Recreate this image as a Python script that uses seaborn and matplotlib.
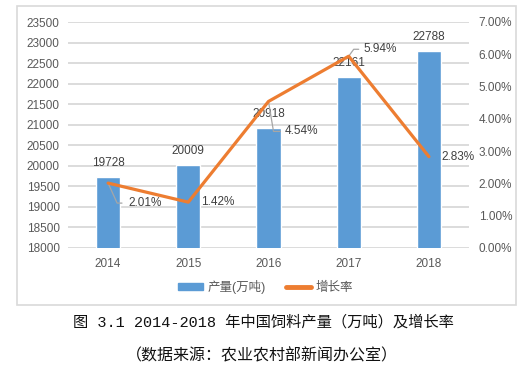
import matplotlib
matplotlib.use("Agg")
import numpy as np
import pandas as pd
import seaborn as sns
import matplotlib.pyplot as plt
import matplotlib.transforms as mtrans
from matplotlib.patches import Rectangle
from matplotlib.lines import Line2D

sns.set_theme(style='white')
plt.rcParams['font.family'] = ['Liberation Sans', 'Noto Sans CJK SC', 'DejaVu Sans']

years = ['2014', '2015', '2016', '2017', '2018']
output = [19728, 20009, 20918, 22161, 22788]
growth = [2.01, 1.42, 4.54, 5.94, 2.83]
left_ticks = [18000, 18500, 19000, 19500, 20000, 20500, 21000, 21500, 22000, 22500, 23000, 23500]
right_ticks = [0, 1, 2, 3, 4, 5, 6, 7]

BAR = '#5B9BD5'
LINE = '#ED7D31'
GRID = '#D9D9D9'
TXT = '#595959'

df = pd.DataFrame({'year': years, 'output': output, 'growth': growth, 'pos': np.arange(len(years))})

fig = plt.figure(figsize=(5.31, 3.67), dpi=100)
fig.patches.append(Rectangle((17 / 531, 1 - 305 / 367), 499 / 531, 299 / 367,
                             transform=fig.transFigure, fill=False, edgecolor=GRID, lw=1.2))
ax = fig.add_axes([68 / 531, 1 - 248 / 367, 401 / 531, 226 / 367])

sns.barplot(data=df, x='year', y='output', color=BAR, width=0.3, saturation=1, ax=ax, zorder=2)
ax.set_ylim(18000, 23500)
ax.set_yticks(left_ticks)
ax.set_xlim(-0.5, 4.5)
ax.grid(axis='y', color=GRID, lw=1.3, zorder=0)
ax.set_axisbelow(True)
for s in ax.spines.values():
    s.set_visible(False)
ax.tick_params(axis='both', length=0, labelsize=8.5, colors=TXT)
ax.tick_params(axis='y', pad=6)
ax.tick_params(axis='x', pad=7)
ax.set_xlabel('')
ax.set_ylabel('')
for i, v in enumerate(output):
    ax.annotate(str(v), xy=(i, v), xytext=(0, 6), textcoords='offset points',
                ha='center', va='bottom', fontsize=8.5, color='#404040')

ax2 = ax.twinx()
sns.lineplot(data=df, x='pos', y='growth', color=LINE, lw=2.3, ax=ax2, zorder=3)
ax2.set_ylim(0, 7)
ax2.set_yticks(right_ticks)
ax2.set_yticklabels(['%.2f%%' % t for t in right_ticks])
ax2.set_xlim(-0.5, 4.5)
for s in ax2.spines.values():
    s.set_visible(False)
ax2.tick_params(axis='y', length=0, labelsize=8.5, colors=TXT, pad=7)
ax2.set_xlabel('')
ax2.set_ylabel('')

# percent labels (offsets in points from the point), leader lines where Excel drew them
text_off = [(14.4, -14.4), (9, 0), (11.5, -21.6), (10.8, 5), (9, 0)]
leaders = [[(0, 0), (6.5, -14.4), (10, -14.4)],
           None,
           [(0, 0), (3.6, -21.6), (8.6, -21.6)],
           [(0, 0), (3.6, 5), (7.2, 5)],
           None]
for i, (g, off, lead) in enumerate(zip(growth, text_off, leaders)):
    ax2.annotate('%.2f%%' % g, xy=(i, g), xytext=off, textcoords='offset points',
                 ha='left', va='center', fontsize=8.5, color='#404040', zorder=4)
    if lead:
        tr = mtrans.Affine2D().scale(fig.dpi / 72) + mtrans.ScaledTranslation(i, g, ax2.transData)
        xs, ys = zip(*lead)
        ax2.add_line(Line2D(xs, ys, transform=tr, color='#A6A6A6', lw=0.9, zorder=2.5))

handles = [Rectangle((0, 0), 1, 1, color=BAR), Line2D([0], [0], color=LINE, lw=3.5)]
fig.legend(handles, ['产量(万吨)', '增长率'], loc='center', bbox_to_anchor=(0.5, 1 - 287 / 367),
           ncol=2, frameon=False, fontsize=9, handlelength=2.0, handleheight=0.45,
           handletextpad=0.4, columnspacing=1.6, labelcolor=TXT)

cap_font = ['Liberation Mono', 'Noto Sans CJK SC', 'DejaVu Sans']
fig.text(0.497, 1 - 322 / 367, '图 3.1 2014-2018 年中国饲料产量（万吨）及增长率', ha='center', va='center',
         fontsize=11, family=cap_font, color='#111111')
fig.text(0.494, 1 - 356 / 367, '（数据来源：农业农村部新闻办公室）', ha='center', va='center',
         fontsize=11.5, family=cap_font, color='#111111')

fig.savefig('out.png', dpi=100)
